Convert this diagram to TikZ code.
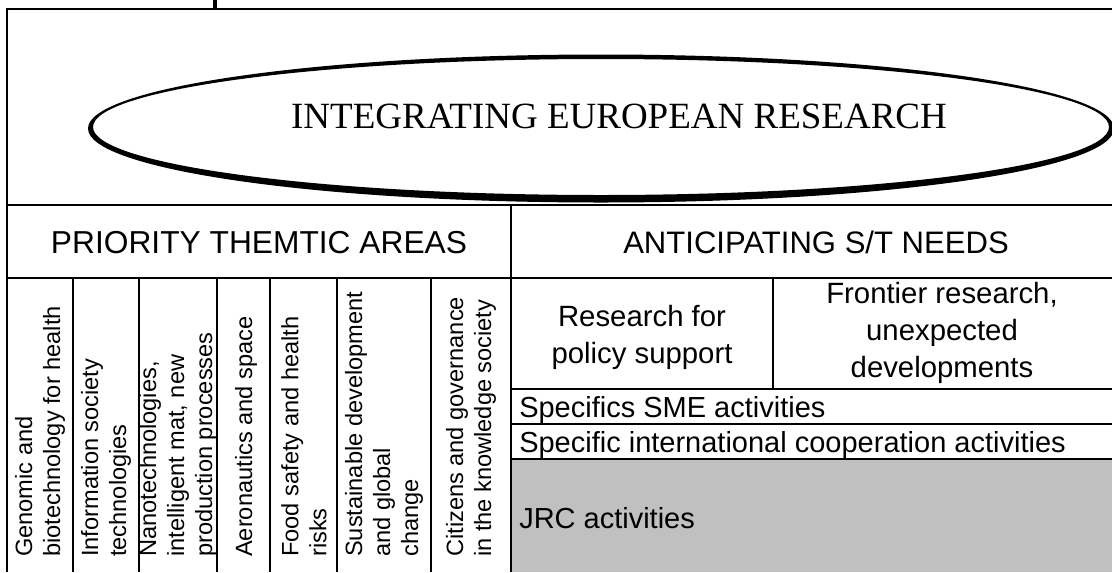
\documentclass[tikz,border=0pt]{standalone}
\usepackage{fontspec}
\setmainfont{Liberation Sans}
\newfontfamily\titlefont{Liberation Serif}
\usetikzlibrary{shapes, positioning, calc}
\definecolor{jrcgray}{HTML}{C0C0C0}

\begin{document}
\begin{tikzpicture}[x=0.75pt, y=-0.75pt,
		frame/.style={line width=1.3pt},
		vlabel/.style={rotate=90, anchor=west, inner sep=0pt, align=left, font=\fontsize{17.7}{21}\selectfont},
		rowlabel/.style={anchor=base west, inner sep=0pt, font=\fontsize{21.75}{26}\selectfont},
		boxlabel/.style={align=center, inner sep=0pt, font=\fontsize{22}{27.75}\selectfont}]
			\useasboundingbox (0,0) rectangle (1112,572);
			\fill[jrcgray] (511,459) rectangle (1112,572);
			% grid of the table
			\draw[frame] (1112,9) -- (7,9) -- (7,572);
			\draw[frame] (7,205) -- (1112,205);
			\draw[frame] (7,278) -- (1112,278);
			\draw[frame] (511,205) -- (511,572);
			\draw[frame] (773,278) -- (773,389);
			\foreach \y in {389,424,459}
				\draw[frame] (511,\y) -- (1112,\y);
			\foreach \x in {73,139,217,270,337,431}
				\draw[frame] (\x,278) -- (\x,572);
			\draw[line width=3.5pt] (215,0) -- (215,9);
			% title ring, heavier at the bottom
			\fill[even odd rule] (601,128.5) ellipse [x radius=513, y radius=74]
				(601,127) ellipse [x radius=508, y radius=68];
			\node[anchor=base, inner sep=0pt, font=\titlefont\fontsize{27.75}{32}\selectfont] (title) at (619,128) {INTEGRATING EUROPEAN RESEARCH};
			% headers
			\node[anchor=base, inner sep=0pt, font=\fontsize{23.8}{28}\selectfont] (priority) at (259,253) {PRIORITY THEMTIC AREAS};
			\node[anchor=base, inner sep=0pt, font=\fontsize{23.3}{28}\selectfont] (anticipating) at (816,253) {ANTICIPATING S/T NEEDS};
			% thematic areas
			\foreach \x/\name/\txt in {40/genomic/{Genomic and\\biotechnology for health},
					106/infosoc/{Information society\\technologies},
					178/nano/{Nanotechnologies,\\intelligent mat, new\\production processes},
					246/aero/{Aeronautics and space},
					304/food/{Food safety and health\\risks},
					384/sustain/{Sustainable development\\and global\\change},
					471/citizens/{Citizens and governance\\in the knowledge society}}
				\node[vlabel] (\name) at (\x,557) {\txt};
			% right hand rows
			\node[boxlabel] (policy) at (642,337) {Research for\\policy support};
			\node[boxlabel] (frontier) at (942,333) {Frontier research,\\unexpected\\developments};
			\node[rowlabel] (sme) at (519,417) {Specifics SME activities};
			\node[rowlabel] (intl) at (519,452) {Specific international cooperation activities};
			\node[rowlabel] (jrc) at (519,528) {JRC activities};
		\end{tikzpicture}
\end{document}
